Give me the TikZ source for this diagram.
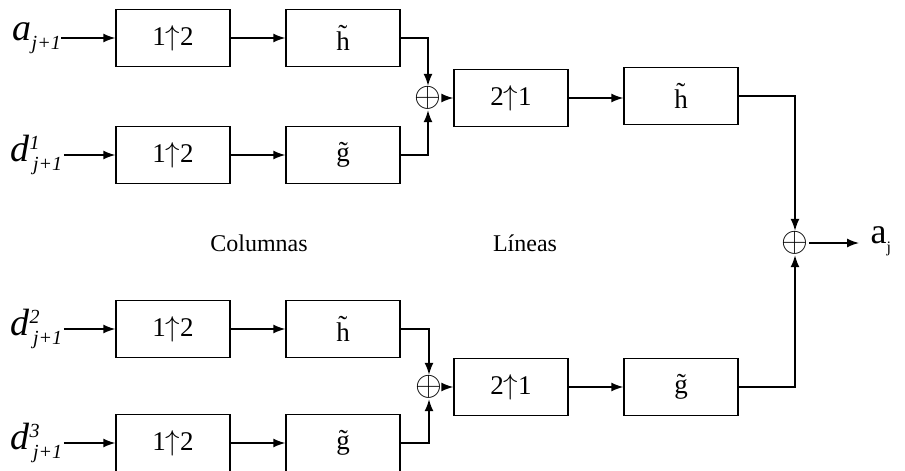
\documentclass[tikz,border=0pt]{standalone}
\usepackage{fontspec}
\setmainfont{Liberation Serif}
\usepackage{amssymb}
\usetikzlibrary{arrows.meta}

\begin{document}
\begin{tikzpicture}[x=0.5pt,y=-0.5pt,
    filt/.style={draw,line width=0.7pt,minimum width=57pt,minimum height=28.5pt,
      inner sep=0pt,font=\fontsize{13.5}{15}\selectfont},
    sumnode/.style={inner sep=0pt,font=\fontsize{17}{19}\selectfont},
    sig/.style={inner sep=0pt,font=\fontsize{19}{21}\selectfont\itshape},
    lbl/.style={inner sep=0pt,font=\fontsize{12}{14}\selectfont},
    >={Latex[length=6pt,width=4.5pt]},
    every path/.style={line width=0.7pt}]
  \useasboundingbox (0,0) rectangle (905,471);

  % inputs
  \node[sig,anchor=west] (a1) at (12,38) {a\raisebox{-0.55ex}{\fontsize{10}{10}\selectfont j+1}};
  \node[sig,anchor=west] (d1) at (10,155) {d$^{\mbox{\fontsize{10}{10}\selectfont\itshape 1}}_{\mbox{\fontsize{10}{10}\selectfont\itshape \,j+1}}$};
  \node[sig,anchor=west] (d2) at (10,329) {d$^{\mbox{\fontsize{10}{10}\selectfont\itshape 2}}_{\mbox{\fontsize{10}{10}\selectfont\itshape \,j+1}}$};
  \node[sig,anchor=west] (d3) at (10,443) {d$^{\mbox{\fontsize{10}{10}\selectfont\itshape 3}}_{\mbox{\fontsize{10}{10}\selectfont\itshape \,j+1}}$};

  % columns
  \node[filt] (up1) at (173,38) {1$\uparrow$2};
  \node[filt] (h1) at (343,38) {\~{h}};
  \node[filt] (up2) at (173,155) {1$\uparrow$2};
  \node[filt] (g1) at (343,155) {\~{g}};
  \node[filt] (up3) at (173,329) {1$\uparrow$2};
  \node[filt] (h3) at (343,329) {\~{h}};
  \node[filt] (up4) at (173,443) {1$\uparrow$2};
  \node[filt] (g3) at (343,443) {\~{g}};

  % lines
  \node[sumnode] (s1) at (428,98) {$\oplus$};
  \node[filt] (dn1) at (511,98) {2$\uparrow$1};
  \node[filt] (h2) at (681,96) {\~{h}};
  \node[sumnode] (s2) at (429,387) {$\oplus$};
  \node[filt] (dn2) at (511,387) {2$\uparrow$1};
  \node[filt] (g2) at (681,387) {\~{g}};

  \node[sumnode] (s3) at (795,243) {$\oplus$};
  \node[anchor=west,inner sep=0pt,font=\fontsize{18}{20}\selectfont] (out) at (870,241) {a\raisebox{-0.55ex}{\fontsize{8}{8}\selectfont j}};

  \node[lbl] (col) at (259,243) {Columnas};
  \node[lbl] (lin) at (525,243) {Líneas};

  \draw[->] (a1) -- (up1);
  \draw[->] (d1.east |- up2) -- (up2);
  \draw[->] (d2.east |- up3) -- (up3);
  \draw[->] (d3.east |- up4) -- (up4);
  \draw[->] (up1) -- (h1);
  \draw[->] (up2) -- (g1);
  \draw[->] (up3) -- (h3);
  \draw[->] (up4) -- (g3);

  \draw[->] (h1) -| (s1);
  \draw[->] (g1) -| (s1);
  \draw[->] (h3) -| (s2);
  \draw[->] (g3) -| (s2);
  \draw[->] (s1) -- (dn1);
  \draw[->] (s2) -- (dn2);
  \draw[->] (dn1) -- (dn1 -| h2.west);
  \draw[->] (dn2) -- (g2);

  \draw[->] (h2) -| (s3);
  \draw[->] (g2) -| (s3);
  \draw[->] (s3) -- ++(64,0);
\end{tikzpicture}
\end{document}
